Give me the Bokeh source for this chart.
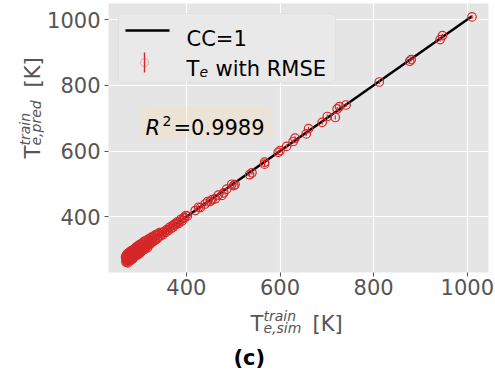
import math
from bokeh.plotting import figure
from bokeh.layouts import row, column
from bokeh.models import Label, BoxAnnotation, FixedTicker, Range1d, ColumnDataSource
from bokeh.embed import file_html
from bokeh.resources import INLINE

# ---- data ----
sim_low = [270, 271, 272, 272, 273, 274, 274, 275, 276, 277,
           277, 278, 279, 280, 280, 281, 282, 283, 284, 284,
           285, 286, 287, 288, 289, 290, 290, 291, 292, 293,
           294, 295, 296, 297, 298, 299, 300, 301, 302, 303]
pred_low = [278, 262, 284, 268, 264, 287, 272, 260, 289, 276,
            266, 291, 272, 295, 280, 268, 293, 283, 271, 298,
            286, 274, 300, 289, 278, 303, 292, 282, 307, 290,
            283, 310, 296, 286, 313, 299, 289, 316, 304, 293]
sim_low2 = [271, 273, 274, 275, 276, 278, 279, 281, 282, 283,
            285, 286, 288, 289, 291, 292, 294, 295, 297, 298,
            300, 302, 304, 306, 309, 312, 315, 318, 322, 326]
pred_low2 = [270, 276, 269, 280, 271, 274, 283, 277, 287, 274,
             290, 281, 279, 293, 285, 296, 288, 299, 291, 302,
             295, 306, 300, 310, 306, 315, 311, 321, 318, 329]
sim_cl2 = [304, 305, 306, 307, 308, 309, 310, 311, 312, 313,
           315, 316, 317, 319, 320, 322, 323, 325, 326, 328,
           330, 331, 333, 334, 336, 338, 339, 341, 343, 345]
pred_cl2 = [316, 298, 320, 303, 323, 309, 300, 326, 313, 305,
            328, 314, 306, 332, 318, 316, 335, 322, 338, 324,
            340, 327, 344, 330, 345, 334, 348, 338, 352, 343]
sim_cl3 = [348, 350, 353, 356, 358, 361, 364, 367, 370, 372,
           375, 378, 381, 384, 388, 391, 395, 399]
pred_cl3 = [351, 346, 356, 353, 361, 358, 368, 364, 373, 369,
            378, 376, 385, 380, 392, 388, 398, 404]
sim_mid = [377, 384, 395, 402, 419, 426, 430, 440, 445, 451,
           455, 462, 468, 476, 480, 486, 497, 501, 504, 535,
           540, 567, 567, 596, 600, 614, 628, 632, 656, 661,
           690, 701, 718, 722, 727, 741, 812, 877, 880, 942,
           947, 1010]
pred_mid = [379, 384, 396, 402, 419, 429, 428, 439, 446, 447,
            452, 455, 466, 465, 473, 484, 499, 495, 498, 528,
            534, 560, 566, 596, 601, 614, 629, 639, 652, 668,
            687, 705, 702, 728, 735, 740, 810, 873, 878, 939,
            951, 1008]
rmse = 6.0
r2_value = "0.9989"
x_ticks = [400, 600, 800, 1000]
y_ticks = [400, 600, 800, 1000]

sim = sim_low + sim_low2 + sim_cl2 + sim_cl3 + sim_mid
pred = pred_low + pred_low2 + pred_cl2 + pred_cl3 + pred_mid

RED = "#D62728"
GREY = "#555555"
FONT = "DejaVu Sans"

src = ColumnDataSource(dict(
    x=sim, y=pred,
    y0=[v - rmse for v in pred], y1=[v + rmse for v in pred]))

# ---------- main plot (page x 44..494, y 0..302) ----------
MX, MH = 44, 302
p = figure(width=450, height=MH, output_backend="svg", toolbar_location=None,
           x_range=Range1d(233.6, 1045.3), y_range=Range1d(230.6, 1048.7),
           min_border_left=106 - MX, min_border_right=6, min_border_top=3,
           min_border_bottom=30)
p.background_fill_color = "#E5E5E5"
p.border_fill_color = "white"
p.outline_line_color = None
p.grid.grid_line_color = "white"
p.grid.grid_line_width = 1.2
p.xaxis.ticker = FixedTicker(ticks=x_ticks)
p.yaxis.ticker = FixedTicker(ticks=y_ticks)
for ax in (p.xaxis, p.yaxis):
    ax.axis_line_color = None
    ax.major_tick_line_color = GREY
    ax.major_tick_out = 4
    ax.major_tick_in = 0
    ax.minor_tick_out = 0
    ax.minor_tick_in = 0
    ax.major_label_text_color = GREY
    ax.major_label_text_font = FONT
    ax.major_label_text_font_size = "21px"
p.xaxis.major_label_standoff = 2
p.yaxis.major_label_standoff = 4

# CC=1 line
lo, hi = min(sim), max(sim)
p.line([lo, hi], [lo, hi], line_color="black", line_width=2.5)
# error bars and markers
p.segment(x0="x", x1="x", y0="y0", y1="y1", source=src, line_color=RED, line_width=1.2)
p.scatter("x", "y", source=src, size=8.5, fill_color=None, line_color=RED, line_width=1.2)


def lab(fig, ox, ob, text, px, py, size, style="normal", color=GREY, angle=0.0):
    """Place a text at page pixel (px, py); ox = page x of frame left, ob = page y of frame bottom."""
    fig.add_layout(Label(x=px - ox, y=ob - py, x_units="screen", y_units="screen",
                         text=text, text_font=FONT, text_font_size=f"{size}px",
                         text_font_style=style, text_color=color, angle=angle,
                         text_align="left", text_baseline="alphabetic"))


def box(fig, ox, ob, l, t, r, b, **kw):
    fig.add_layout(BoxAnnotation(left=l - ox, right=r - ox, top=ob - t, bottom=ob - b,
                                 left_units="screen", right_units="screen",
                                 top_units="screen", bottom_units="screen", **kw))


FL, FB = 106, 272
# legend
box(p, FL, FB, 116, 13, 333, 82, fill_color="#E9E9E9", fill_alpha=1.0, line_color="#CCCCCC",
    line_width=1, border_radius=4)
box(p, FL, FB, 123, 28.8, 167, 31.2, fill_color="black", fill_alpha=1.0, line_color=None)
lab(p, FL, FB, "CC=1", 184, 38, 21, color="black")
box(p, FL, FB, 141.3, 52, 142.7, 72, fill_color=RED, fill_alpha=1.0, line_color=None)
box(p, FL, FB, 138, 58, 146, 66, fill_color=None, line_color=RED, line_width=1.1, border_radius=4)
lab(p, FL, FB, "T", 184, 68, 21, color="black")
lab(p, FL, FB, "e", 197, 71.5, 14, "italic", color="black")
lab(p, FL, FB, "with RMSE", 213, 68, 21, color="black")

# R^2 box
box(p, FL, FB, 138, 105, 268, 137, fill_color="wheat", fill_alpha=0.3, line_color=None,
    border_radius=5)
lab(p, FL, FB, "R", 143, 127, 21, "italic", color="black")
lab(p, FL, FB, "2", 160, 120, 14, color="black")
lab(p, FL, FB, "=" + r2_value, 171, 127, 21, color="black")


def strip(w, h):
    f = figure(width=w, height=h, output_backend="svg", toolbar_location=None,
               x_axis_type=None, y_axis_type=None, x_range=Range1d(0, 1), y_range=Range1d(0, 1),
               min_border=0)
    f.outline_line_color = None
    f.background_fill_color = "white"
    f.border_fill_color = "white"
    f.grid.visible = False
    return f


# ---------- y label strip (page x 0..44, y 0..302) ----------
left = strip(MX, MH)
A = math.pi / 2
lab(left, 0, MH, "T", 32, 188, 21, angle=A)
lab(left, 0, MH, "train", 24, 175, 14, "italic", angle=A)
lab(left, 0, MH, "e,pred", 35.5, 175, 14, "italic", angle=A)
lab(left, 0, MH, "[K]", 32, 117, 21, angle=A)

# ---------- x label + panel title strip (page y 302..369) ----------
BH = 67
bottom = strip(MX + 450, BH)
BB = MH + BH
lab(bottom, 0, BB, "T", 250, 323.3, 21)
lab(bottom, 0, BB, "train", 263, 315, 14, "italic")
lab(bottom, 0, BB, "e,sim", 263, 327.5, 14, "italic")
lab(bottom, 0, BB, "[K]", 312, 323.3, 21)
lab(bottom, 0, BB, "(c)", 233, 357, 21, "bold", color="black")

layout = column(row(left, p), bottom)
open("out.html", "w").write(file_html(layout, INLINE))
